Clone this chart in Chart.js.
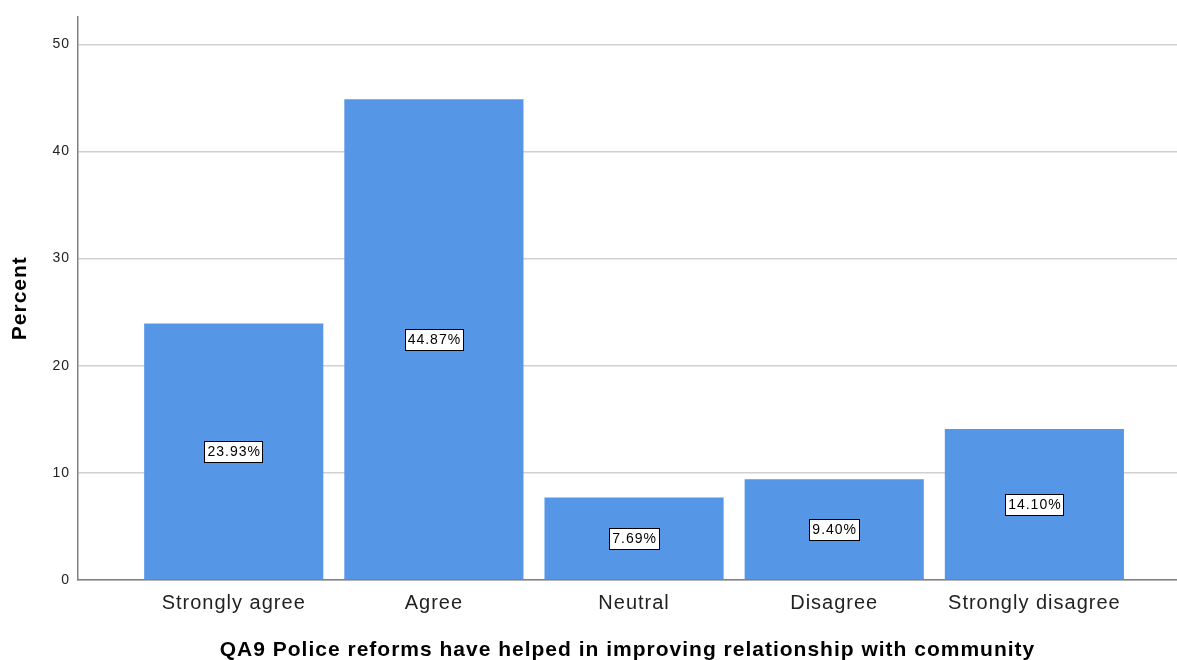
<!DOCTYPE html>
<html>
<head>
<meta charset="utf-8">
<script src="https://cdn.jsdelivr.net/npm/chart.js@4"></script>
<style>
  html, body { margin: 0; padding: 0; background: #fff; }
  canvas { display: block; }
</style>
</head>
<body>
<canvas id="percentChart" width="1177" height="660"></canvas>
<script>
const categories = ['Strongly agree', 'Agree', 'Neutral', 'Disagree', 'Strongly disagree'];
const percentValues = [23.93, 44.87, 7.69, 9.40, 14.10];
const yTicks = [0, 10, 20, 30, 40, 50];

const FONT = '"Liberation Sans", Arial, sans-serif';

// Slightly looser letter spacing for all chart text
const textSpacing = {
    id: 'textSpacing',
    beforeDraw(chart) {
        chart.ctx.letterSpacing = '1px';
    }
};

// Label boxes in the middle of each bar
const barValueLabels = {
    id: 'barValueLabels',
    afterDatasetsDraw(chart) {
        const ctx = chart.ctx;
        const meta = chart.getDatasetMeta(0);
        ctx.save();
        ctx.font = '14px ' + FONT;
        ctx.textAlign = 'center';
        ctx.textBaseline = 'middle';
        meta.data.forEach((bar, i) => {
            const text = percentValues[i].toFixed(2) + '%';
            const cx = bar.x;
            const cy = (bar.y + bar.base) / 2;
            const w = ctx.measureText(text).width + 5;
            const h = 21;
            const left = Math.round(cx - w / 2) + 0.5;
            const top = Math.round(cy - h / 2) + 0.5;
            ctx.fillStyle = '#ffffff';
            ctx.fillRect(left, top, Math.round(w), h);
            ctx.strokeStyle = '#000000';
            ctx.lineWidth = 1;
            ctx.strokeRect(left, top, Math.round(w), h);
            ctx.fillStyle = '#000000';
            ctx.fillText(text, cx + 0.5, cy + 1);
        });
        ctx.restore();
    }
};

new Chart(document.getElementById('percentChart'), {
    type: 'bar',
    data: {
        datasets: [{
            data: percentValues.map((v, i) => ({ x: i, y: v })),
            backgroundColor: '#5596e6',
            borderWidth: 0,
            barPercentage: 0.895,
            categoryPercentage: 1
        }]
    },
    options: {
        responsive: false,
        animation: false,
        layout: { padding: { top: 15, right: 0, left: 0, bottom: 0 } },
        plugins: {
            legend: { display: false },
            tooltip: { enabled: false }
        },
        scales: {
            x: {
                type: 'linear',
                offset: false,
                min: -0.778,
                max: 4.7125,
                afterBuildTicks: axis => { axis.ticks = categories.map((c, i) => ({ value: i })); },
                afterFit: axis => { axis.height = 80; },
                grid: { display: false, drawTicks: false, offset: false },
                border: { color: '#808080', width: 1.5 },
                ticks: {
                    padding: 11,
                    color: '#222222',
                    font: { family: FONT, size: 20 },
                    callback: value => categories[value]
                },
                title: {
                    display: true,
                    text: 'QA9 Police reforms have helped in improving relationship with community',
                    color: '#000000',
                    font: { family: FONT, size: 21, weight: 'bold' },
                    padding: -3
                }
            },
            y: {
                min: 0,
                max: 52.6,
                afterBuildTicks: axis => { axis.ticks = yTicks.map(v => ({ value: v })); },
                afterFit: axis => { axis.width = 78; },
                grid: { color: '#d0d0d0', lineWidth: 1.5, drawTicks: false },
                border: { color: '#808080', width: 1.5 },
                ticks: {
                    padding: 8,
                    color: '#222222',
                    font: { family: FONT, size: 14 }
                },
                title: {
                    display: true,
                    text: 'Percent',
                    color: '#000000',
                    font: { family: FONT, size: 21, weight: 'bold' },
                    padding: 8
                }
            }
        }
    },
    plugins: [textSpacing, barValueLabels]
});
</script>
</body>
</html>
